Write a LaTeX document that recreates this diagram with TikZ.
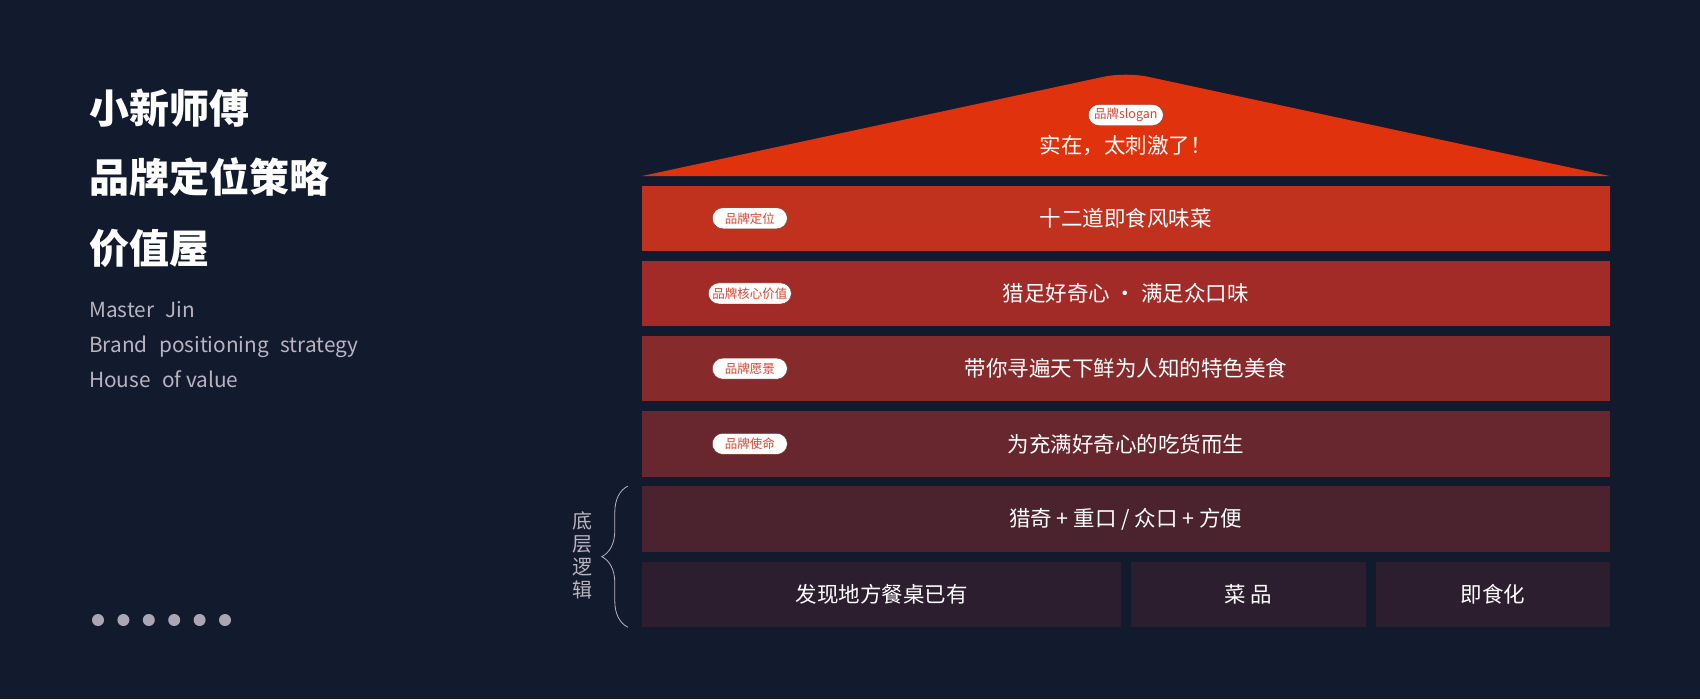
\documentclass[tikz,border=0pt]{standalone}
\usepackage{fontspec}
\setmainfont{Noto Sans CJK SC}
\definecolor{navy}{RGB}{18, 26, 46}
\definecolor{roofred}{RGB}{224, 50, 12}
\definecolor{houseA}{RGB}{192, 49, 30}
\definecolor{houseB}{RGB}{162, 43, 40}
\definecolor{houseC}{RGB}{134, 42, 44}
\definecolor{houseD}{RGB}{104, 38, 46}
\definecolor{houseE}{RGB}{74, 35, 47}
\definecolor{houseF}{RGB}{45, 30, 47}
\definecolor{pillred}{RGB}{214, 70, 50}
\definecolor{softgray}{RGB}{186, 180, 190}
\definecolor{dotgray}{RGB}{172, 166, 178}
\usetikzlibrary{positioning, calc, decorations.pathreplacing}
\newcommand{\wordgap}{\hspace{0.55em}}
\tikzset{
	band/.style={rectangle, minimum width=967.5pt, minimum height=65.5pt, inner sep=0pt, text=white, font=\fontsize{21.5}{24}\selectfont},
	cell/.style={band, minimum width=234.5pt, fill=houseF},
	pill/.style={rectangle, rounded corners=10.5pt, fill=white, draw=pillred!60!black, line width=0.4pt, minimum width=75pt, minimum height=21pt, inner xsep=4pt, inner ysep=0pt, text=pillred, font=\fontsize{12.5}{14}\selectfont},
	headline/.style={anchor=west, inner sep=0pt, text=white, font=\fontsize{40}{44}\selectfont\bfseries},
	subline/.style={anchor=base west, inner sep=0pt, text=softgray, font=\fontsize{20.8}{24}\selectfont},
	navdot/.style={circle, fill=dotgray, minimum size=12pt, inner sep=0pt},
	bracket/.style={decorate, decoration={brace, amplitude=26pt}, draw=softgray, line width=0.8pt},
}

\begin{document}
\begin{tikzpicture}[x=1pt, y=-1pt]
	\fill[navy] (0,0) rectangle (1700,699);
	\useasboundingbox (0,0) rectangle (1700,699);
	% left titles
	\node[headline] (brandname) at (89,108) {小新师傅};
	\node[headline] (strategy) at (89,177) {品牌定位策略};
	\node[headline] (valuehouse) at (89,248) {价值屋};
	\node[subline] (brandnameen) at (89,317) {Master\wordgap Jin};
	\node[subline] (strategyen) at (89,352) {Brand\wordgap positioning\wordgap strategy};
	\node[subline] (valuehouseen) at (89,387) {House\wordgap of value};
	\foreach \i in {1,...,6}
		\node[navdot] (dot\i) at (72.6+25.4*\i,620) {};
	% roof
	\coordinate (apex) at (1125.75,72);
	\fill[roofred] (642,176) [rounded corners=22pt] -- (apex) [sharp corners] -- (1609.5,176) -- cycle;
	\node[pill] (sloganpill) at (1125.75,115) {品牌slogan};
	\node[text=white, inner sep=0pt, font=\fontsize{21.5}{24}\selectfont] (slogan) at (1125.75,146) {实在，太刺激了！};
	% house rows
	\node[band, fill=houseA] (position) at (1125.75,218.25) {十二道即食风味菜};
	\node[band, fill=houseB, below=9.3pt of position] (corevalue) {猎足好奇心 · 满足众口味};
	\node[band, fill=houseC, below=9.3pt of corevalue] (vision) {带你寻遍天下鲜为人知的特色美食};
	\node[band, fill=houseD, below=9.3pt of vision] (mission) {为充满好奇心的吃货而生};
	\node[band, fill=houseE, below=9.3pt of mission] (logic) {猎奇 + 重口 / 众口 + 方便};
	\node[cell, minimum width=479pt, below right=9.3pt and 0pt of logic.south west] (discover) {发现地方餐桌已有};
	\node[cell, minimum width=235pt, right=9.5pt of discover] (dish) {菜\ 品};
	\node[cell, right=9.5pt of dish] (instant) {即食化};
	% row tags
	\node[pill] (positionpill) at ($(position.west)+(108pt,0)$) {品牌定位};
	\node[pill] (corevaluepill) at ($(corevalue.west)+(108pt,0)$) {品牌核心价值};
	\node[pill] (visionpill) at ($(vision.west)+(108pt,0)$) {品牌愿景};
	\node[pill] (missionpill) at ($(mission.west)+(108pt,0)$) {品牌使命};
	% base logic
	\draw[bracket] ($(discover.south west)+(-14pt,0)$) -- ($(logic.north west)+(-14pt,0)$);
	\node[align=center, inner sep=0pt, text=softgray, font=\fontsize{20}{23}\selectfont] (logiclabel) at (582,555) {底\\层\\逻\\辑};
\end{tikzpicture}
\end{document}
